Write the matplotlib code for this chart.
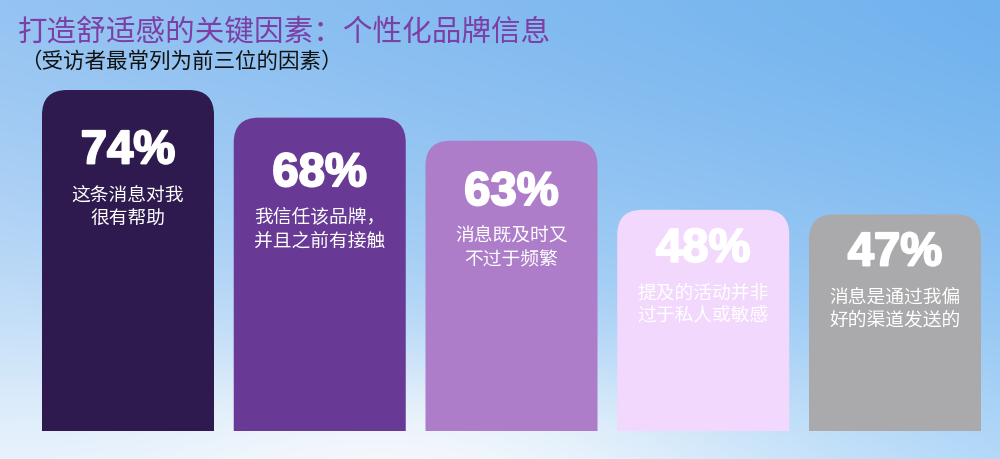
import numpy as np
import matplotlib
matplotlib.use("Agg")
import matplotlib.pyplot as plt
import matplotlib.patheffects as pe
from matplotlib.patches import FancyBboxPatch

CJK = ["Noto Sans CJK SC", "DejaVu Sans"]
plt.rcParams["font.family"] = CJK

W, H, DPI = 1000, 460, 100

TITLE = "打造舒适感的关键因素：个性化品牌信息"
SUBTITLE = "（受访者最常列为前三位的因素）"

values = [74, 68, 63, 48, 47]
labels = [
    "这条消息对我\n很有帮助",
    "我信任该品牌，\n并且之前有接触",
    "消息既及时又\n不过于频繁",
    "提及的活动并非\n过于私人或敏感",
    "消息是通过我偏\n好的渠道发送的",
]
colors = ["#2e1a4f", "#683a96", "#ad7dca", "#f2d8fc", "#aaaaac"]

TITLE_COLOR = "#7b3fa6"

fig = plt.figure(figsize=(W / DPI, H / DPI), dpi=DPI)

# background gradient (sky blue, whitish towards bottom left)
bg = fig.add_axes([0, 0, 1, 1], zorder=0)
yy, xx = np.mgrid[0:H, 0:W]
s = (xx / (W - 1))[..., None]
t = (yy / (H - 1))[..., None]
top = np.array([150, 196, 242]) * (1 - s) + np.array([112, 178, 238]) * s
bot = np.array([226, 239, 252]) * (1 - s) + np.array([176, 215, 248]) * s
tt = t ** 1.4
img = top * (1 - tt) + bot * tt
glow = np.exp(-(((xx - 400) / 360) ** 2 + ((yy - 470) / 110) ** 2))[..., None]
img = img * (1 - 0.8 * glow) + 252 * 0.8 * glow
bg.imshow(np.clip(img, 0, 255).astype(np.uint8), aspect="auto", extent=(0, W, H, 0))
bg.axis("off")

# main axes: spans full width, bottom at y=432 px
bottom_px = 432
ax = fig.add_axes([0, (H - bottom_px) / H, 1, bottom_px / H], zorder=1)
ax.patch.set_alpha(0)
ax.axis("off")

x = np.arange(len(values))
step_px = 191.75
x0 = -128 / step_px
ax.set_xlim(x0, x0 + W / step_px)
ymax = bottom_px / 4.608
ax.set_ylim(0, ymax)

bars = ax.bar(x, values, width=172 / step_px, color=colors)

# replace bars with rounded-top versions
xu = (W / step_px) / W
yu = ymax / bottom_px
asp = yu / xu
r = 25 * xu
for b, c in zip(bars, colors):
    b.set_visible(False)
    ext = 10
    p = FancyBboxPatch((b.get_x(), -ext), b.get_width(), b.get_height() + ext,
                       boxstyle=f"round,pad=0,rounding_size={r}",
                       mutation_aspect=asp, facecolor=c, edgecolor="none")
    ax.add_patch(p)

for xi, v, lab in zip(x, values, labels):
    ax.text(xi, v * 0.82, f"{v}%", ha="center", va="center",
            fontsize=34, fontweight="bold", color="white",
            family=["Liberation Sans", "DejaVu Sans"],
            path_effects=[pe.withStroke(linewidth=1.5, foreground="white")])
    ax.annotate(lab, xy=(xi, v * 0.82), xytext=(0, -39), textcoords="offset points",
                ha="center", va="center", fontsize=13.5, color="white",
                linespacing=1.15, family=CJK)

fig.text(18 / W, 1 - 33 / H, TITLE, ha="left", va="center",
         fontsize=21.3, color=TITLE_COLOR, family=CJK)
fig.text(20 / W, 1 - 62 / H, SUBTITLE, ha="left", va="center",
         fontsize=15.5, color="#111111", family=CJK)

fig.savefig("out.png", dpi=DPI)
